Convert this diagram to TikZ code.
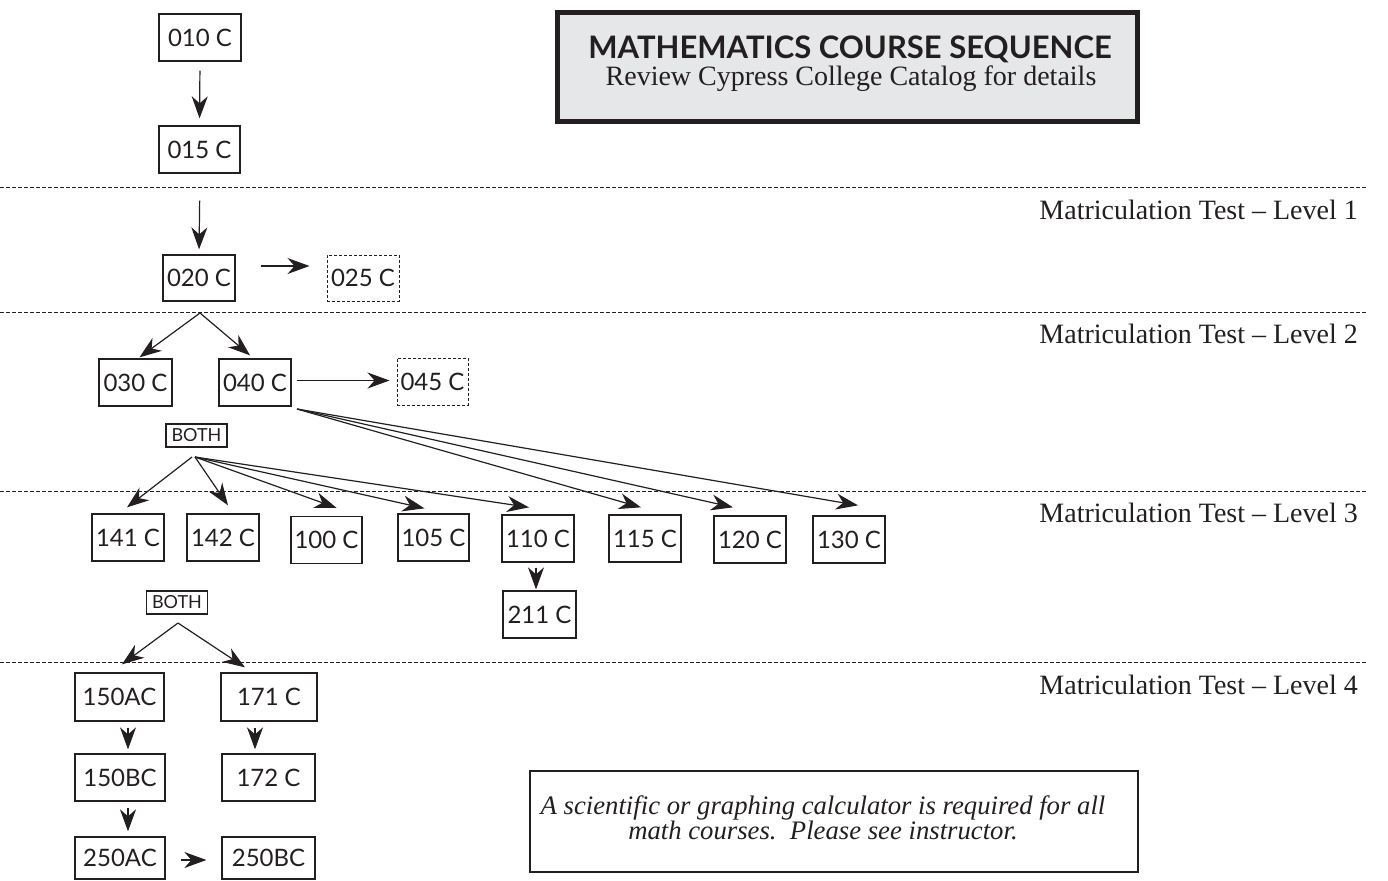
\documentclass[tikz,border=0pt]{standalone}
\usepackage{fontspec}
\setmainfont{Liberation Serif}
\newfontfamily\boxfont{Lato}
\usetikzlibrary{arrows.meta}
\definecolor{ink}{HTML}{231F20}
\definecolor{titlegray}{HTML}{E6E7E8}
\begin{document}
\begin{tikzpicture}[x=1pt,y=-1pt,
 crs/.style={draw=ink, line width=1.3pt, inner sep=0pt, minimum height=47pt, text=ink, font=\boxfont\fontsize{24}{24}\selectfont},
 crsd/.style={crs, dash pattern=on 3pt off 2pt, line width=1pt},
 both/.style={draw=ink, line width=1.2pt, inner sep=0pt, minimum width=61pt, minimum height=23pt, text=ink, font=\boxfont\fontsize{18}{18}\selectfont},
 arr/.style={draw=ink, line width=1.2pt, -{Stealth[length=22pt,width=16pt,inset=7pt]}},
 lev/.style={dash pattern=on 4pt off 2pt, line width=0.9pt, draw=ink},
 levlab/.style={anchor=base east, inner sep=0pt, font=\fontsize{28}{28}\selectfont, text=ink},
]
\useasboundingbox (0,0) rectangle (1388,880);

% title box
\node[draw=ink, line width=5pt, fill=titlegray, minimum width=580pt, minimum height=109pt, inner sep=0pt] (title) at (847,67.5) {};
\node[anchor=base, inner sep=0pt, text=ink, font=\boxfont\bfseries\fontsize{31}{31}\selectfont] (ttl) at (850,59) {MATHEMATICS COURSE SEQUENCE};
\node[anchor=base, inner sep=0pt, text=ink, font=\fontsize{28}{28}\selectfont] (sub) at (851,86) {Review Cypress College Catalog for details};

% level lines
\foreach \y/\b/\n in {187/219/1, 312/343/2, 491/522/3, 662/694/4}{
  \coordinate (L\n a) at (0,\y);
  \coordinate (L\n b) at (1367,\y);
  \draw[lev] (L\n a) -- (L\n b);
  \node[levlab] (lab\n) at (1358,\b) {Matriculation Test -- Level \n};
}

% course boxes
\node[crs, minimum width=82pt] (n010) at (200,37.5) {010 C};
\node[crs, minimum width=81pt] (n015) at (199.5,149.5) {015 C};
\node[crs, minimum width=72pt, minimum height=46pt] (n020) at (199,278) {020 C};
\node[crsd, minimum width=72pt, minimum height=46pt] (n025) at (363,278) {025 C};
\node[crs, minimum width=73pt] (n030) at (135.5,382.5) {030 C};
\node[crs, minimum width=72pt] (n040) at (255,382.5) {040 C};
\node[crsd, minimum width=71pt] (n045) at (432.5,381.5) {045 C};
\node[both] (both1) at (196.5,435.5) {BOTH};
\node[crs, minimum width=72pt] (n141) at (128,537.5) {141 C};
\node[crs, minimum width=72pt] (n142) at (223,537.5) {142 C};
\node[crs, minimum width=71pt] (n100) at (326.5,540) {100 C};
\node[crs, minimum width=71pt] (n105) at (433.5,537.5) {105 C};
\node[crs, minimum width=72pt] (n110) at (538,538.5) {110 C};
\node[crs, minimum width=72pt] (n115) at (645,538.5) {115 C};
\node[crs, minimum width=72pt] (n120) at (750,539.5) {120 C};
\node[crs, minimum width=72pt] (n130) at (849,539.5) {130 C};
\node[crs, minimum width=73pt] (n211) at (539.5,614.5) {211 C};
\node[both] (both2) at (177,602.5) {BOTH};
\node[crs, minimum width=89pt, minimum height=48pt] (n150a) at (119.5,697) {150AC};
\node[crs, minimum width=96pt, minimum height=48pt] (n171) at (269,697) {171 C};
\node[crs, minimum width=90pt] (n150b) at (120,777.5) {150BC};
\node[crs, minimum width=93pt] (n172) at (268.5,777.5) {172 C};
\node[crs, minimum width=90pt, minimum height=42pt] (n250a) at (120,858) {250AC};
\node[crs, minimum width=93pt, minimum height=42pt] (n250b) at (268.5,858) {250BC};

% calculator note
\node[draw=ink, line width=2pt, minimum width=608pt, minimum height=101pt, inner sep=0pt] (calc) at (834,821.5) {};
\node[align=center, inner sep=0pt, text=ink, font=\itshape\fontsize{26.7}{25}\selectfont] (calctxt) at (823,818) {A scientific or graphing calculator is required for all\\math courses.\ \ Please see instructor.};

% fork points
\coordinate (f1) at (200,313);
\coordinate (f2) at (297,409);
\coordinate (f3) at (195,457);
\coordinate (f4) at (178,623);

% connectors
\draw[arr, shorten <=9pt, shorten >=7pt] (n010.south) -- (n015.north);
\draw[arr, shorten <=27pt, shorten >=5pt] ([xshift=0.5pt]n015.south) -- (n020.north);
\draw[arr, shorten <=25pt, shorten >=17pt] ([yshift=12pt]n020.east) -- ([yshift=12pt]n025.west);
\draw[arr] (f1) -- ([xshift=4pt,yshift=1pt]n030.north);
\draw[arr] (f1) -- ([xshift=-5pt,yshift=3pt]n040.north);
\draw[arr, shorten <=5pt, shorten >=7pt] ([yshift=2pt]n040.east) -- ([yshift=1pt]n045.west);
\draw[arr] (f2) -- ([xshift=-4pt,yshift=7pt]n115.north);
\draw[arr] (f2) -- ([xshift=-17pt,yshift=8pt]n120.north);
\draw[arr] (f2) -- ([xshift=9pt,yshift=10pt]n130.north);
\draw[arr] ([xshift=-3pt]f3) -- ([xshift=-1pt,yshift=6pt]n141.north);
\draw[arr] (f3) -- ([xshift=5pt,yshift=8pt]n142.north);
\draw[arr] (f3) -- ([xshift=10pt,yshift=8pt]n100.north);
\draw[arr] (f3) -- ([xshift=-9pt,yshift=5pt]n105.north);
\draw[arr] (f3) -- ([xshift=-9pt,yshift=7pt]n110.north);
\draw[arr, shorten <=5pt, shorten >=1pt] ([xshift=-2pt]n110.south) -- ([xshift=-3.5pt]n211.north);
\draw[arr] (f4) -- ([xshift=2.5pt,yshift=8pt]n150a.north);
\draw[arr] (f4) -- ([xshift=-24pt,yshift=5pt]n171.north);
\draw[arr, shorten <=6pt, shorten >=4pt] ([xshift=8.5pt]n150a.south) -- ([xshift=8pt]n150b.north);
\draw[arr, shorten <=6pt, shorten >=4pt] ([xshift=-14pt]n171.south) -- ([xshift=-13.5pt]n172.north);
\draw[arr, shorten <=6pt, shorten >=5pt] ([xshift=8pt]n150b.south) -- ([xshift=8pt]n250a.north);
\draw[arr, shorten <=15pt, shorten >=15pt] ([yshift=-2pt]n250a.east) -- ([yshift=-2pt]n250b.west);
\end{tikzpicture}
\end{document}
